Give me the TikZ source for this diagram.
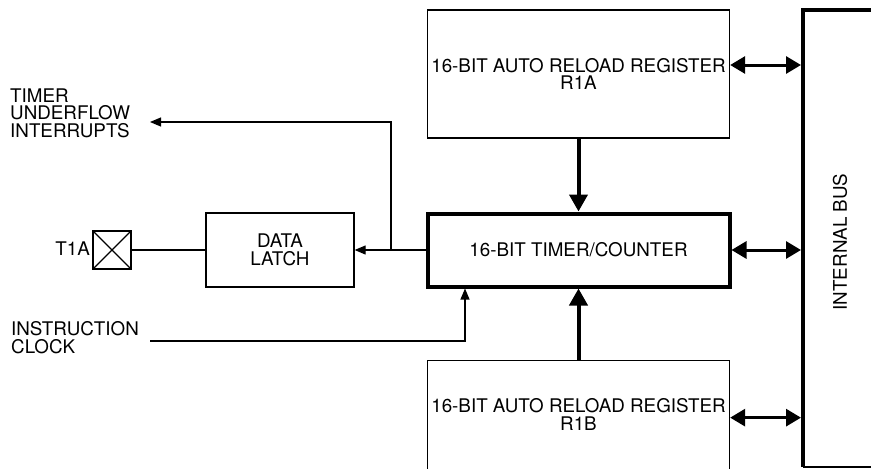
\documentclass[tikz,border=0pt]{standalone}
\usepackage{fontspec}
\setmainfont{TeX Gyre Heros}
\usetikzlibrary{arrows.meta}

\begin{document}
\begin{tikzpicture}[x=1pt, y=-1pt, font=\fontsize{18.8}{17.5}\selectfont,
    box/.style = {draw, line width=1.3pt, inner sep=0pt, align=center},
    reg/.style = {box, minimum width=302pt, minimum height=128pt},
    sig/.style = {line width=1.2pt, -{Triangle[length=11pt, width=9pt]}},
    load/.style = {line width=4pt, -{Triangle[length=17pt, width=18pt]}},
    link/.style = {line width=3pt, shorten >=2pt, {Triangle[length=15pt, width=17pt]}-{Triangle[length=15pt, width=17pt]}}]

            \useasboundingbox (0,0) rectangle (871,469);
            \clip (0,0) rectangle (871,469);

            % Nodes
            \node[reg] (R1A) at (578.5,74) {16-BIT AUTO RELOAD REGISTER\\R1A};
            \node[box, line width=4pt, minimum width=302pt, minimum height=73pt] (TC) at (578.5,250) {16-BIT TIMER/COUNTER};
            \node[reg, anchor=north] (R1B) at (578.5,360) {};
            \node[align=center, inner sep=0pt] (R1Btext) at (578.5,414.5) {16-BIT AUTO RELOAD REGISTER\\R1B};
            \node[box, minimum width=148pt, minimum height=74pt] (DL) at (280,250) {DATA\\LATCH};
            \node[box, outer sep=0pt, minimum size=38pt] (T1A) at (112,250) {};
            \node[anchor=east, inner sep=0pt] (T1Alabel) at (90,249) {T1A};
            \node[inner sep=0pt, outer sep=0pt, minimum width=74pt, minimum height=457.5pt] (Bus) at (840,238.25) {};
            \node[rotate=90] (Buslabel) at (840,242) {INTERNAL BUS};
            \node[anchor=west, inner sep=0pt, align=left] (TUI) at (10,113) {TIMER\\UNDERFLOW\\INTERRUPTS};
            \node[anchor=west, inner sep=0pt, align=left] (IC) at (11,337.5) {INSTRUCTION\\CLOCK};

            \coordinate (split) at (391,250);
            \coordinate (int) at (150,122);
            \coordinate (clk) at (150,341);

            % Bus outline
            \draw[line width=4pt] (Bus.south west) -- (Bus.north west) -- (Bus.north east);
            \draw[line width=1.2pt] (Bus.south west) -- (Bus.south east);

            % Pin
            \draw[line width=1.3pt] (T1A.north west) -- (T1A.south east) (T1A.north east) -- (T1A.south west);

            % Edges
            \draw[load] (R1A) -- (TC);
            \draw[load] (R1B) -- (TC);
            \draw[link] ([yshift=9pt]R1A.east) -- ([yshift=9pt]R1A.east -| Bus.west);
            \draw[link] (TC.east) -- (TC.east -| Bus.west);
            \draw[link] ([yshift=7pt]R1B.east) -- ([yshift=7pt]R1B.east -| Bus.west);
            \draw[line width=1.2pt] (T1A) -- (DL);
            \draw[sig] (TC.west) -- (DL.east);
            \draw[sig] (split) |- (int);
            \draw[sig] (clk) -| (465,0 |- TC.south);
        \end{tikzpicture}
\end{document}
